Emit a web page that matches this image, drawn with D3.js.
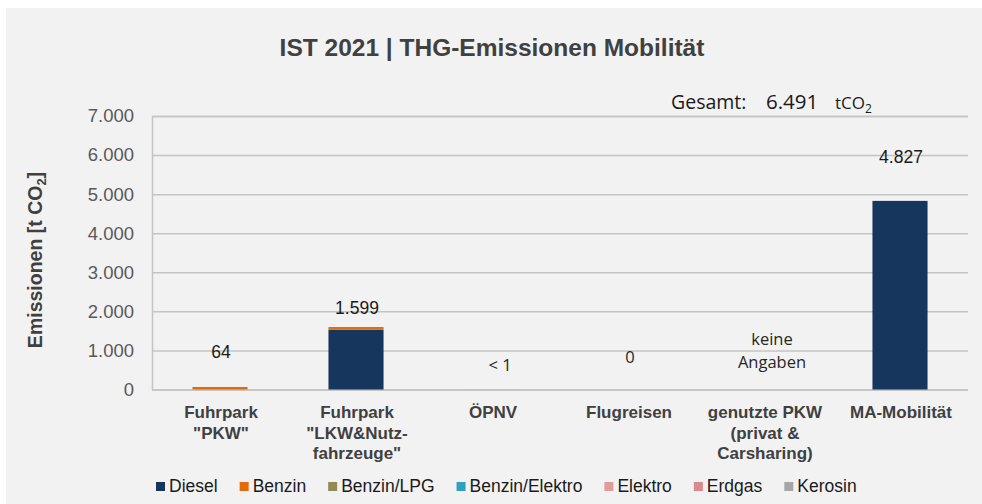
<!DOCTYPE html>
<html>
<head>
<meta charset="utf-8">
<script src="https://cdn.jsdelivr.net/npm/d3@7"></script>
<style>
  html, body { margin: 0; padding: 0; background: #ffffff; }
  svg { display: block; }
</style>
</head>
<body>
<svg id="chart" width="982" height="504"></svg>
<script>
// Categories (x axis), each with its label lines
const categories = ["Fuhrpark PKW", "Fuhrpark LKW", "ÖPNV", "Flugreisen", "genutzte PKW", "MA-Mobilität"];
const categoryLines = [
  ["Fuhrpark", "\"PKW\""],
  ["Fuhrpark", "\"LKW&Nutz-", "fahrzeuge\""],
  ["ÖPNV"],
  ["Flugreisen"],
  ["genutzte PKW", "(privat &", "Carsharing)"],
  ["MA-Mobilität"]
];

// Fuel types (stack series) and their colours
const fuels = ["Diesel", "Benzin", "Benzin/LPG", "Benzin/Elektro", "Elektro", "Erdgas", "Kerosin"];
const fuelColors = ["#17365d", "#e36c09", "#948a54", "#31a0c0", "#e09c9a", "#d98a8c", "#a6a6a6"];

// Emissions in t CO2 per category, one array per fuel
const diesel        = [0,    1532.3, 0.4, 0, 0, 4827.3];
const benzin        = [64.3, 67,     0,   0, 0, 0];
const benzinLPG     = [0,    0,      0,   0, 0, 0];
const benzinElektro = [0,    0,      0,   0, 0, 0];
const elektro       = [0,    0,      0,   0, 0, 0];
const erdgas        = [0,    0,      0,   0, 0, 0];
const kerosin       = [0,    0,      0,   0, 0, 0];

// Categories where no figures were reported
const noData = [false, false, false, false, true, false];

// Y axis ticks
const yTicks = [0, 1000, 2000, 3000, 4000, 5000, 6000, 7000];

// ---------------------------------------------------------------
const series = [diesel, benzin, benzinLPG, benzinElektro, elektro, erdgas, kerosin];
const rows = categories.map((c, i) => {
  const r = { category: c };
  fuels.forEach((f, k) => { r[f] = series[k][i]; });
  return r;
});
const totals = categories.map((c, i) => d3.sum(series, s => s[i]));
const grandTotal = d3.sum(totals);

const fmtDE = v => d3.format(",.0f")(v).replace(/,/g, ".");

const svg = d3.select("#chart");

// Panel background
svg.append("rect").attr("x", 6).attr("y", 8).attr("width", 976).attr("height", 496)
  .attr("fill", "#f2f2f2");

const plot = { left: 152, right: 968, top: 116, bottom: 389.5 };

const x = d3.scaleBand().domain(categories)
  .range([plot.left, plot.right]).paddingInner(0.595).paddingOuter(0.2975);
const y = d3.scaleLinear().domain([0, 7000]).range([plot.bottom, plot.top]);

// Title
svg.append("text")
  .attr("x", 492).attr("y", 56)
  .attr("text-anchor", "middle")
  .attr("font-family", "'Liberation Sans', Arial, sans-serif")
  .attr("font-weight", "bold").attr("font-size", 24.5)
  .attr("fill", "#404040")
  .text("IST 2021 | THG-Emissionen Mobilität");

// Gridlines and value axis
const yAxis = d3.axisLeft(y).tickValues(yTicks).tickSize(-(plot.right - plot.left))
  .tickPadding(18).tickFormat(fmtDE);
const gy = svg.append("g").attr("transform", `translate(${plot.left},0)`).call(yAxis);
gy.select(".domain").attr("stroke", "#c4c4c4").attr("stroke-width", 1.5);
gy.selectAll(".tick line").attr("stroke", "#c4c4c4").attr("stroke-width", 1.5);
gy.selectAll(".tick text")
  .attr("font-family", "'Liberation Sans', Arial, sans-serif")
  .attr("font-size", 18.5).attr("fill", "#595959");

// Axis title
const yt = svg.append("text")
  .attr("transform", "translate(42,260) rotate(-90)")
  .attr("text-anchor", "middle")
  .attr("font-family", "'Liberation Sans', Arial, sans-serif")
  .attr("font-weight", "bold").attr("font-size", 19.5)
  .attr("fill", "#404040");
yt.append("tspan").text("Emissionen [t CO");
yt.append("tspan").attr("font-size", 13).attr("dy", 4).text("2");
yt.append("tspan").attr("dy", -4).text("]");

// Stacked bars
const stack = d3.stack().keys(fuels);
const stacked = stack(rows);
svg.append("g").selectAll("g").data(stacked).join("g")
  .attr("fill", (d, k) => fuelColors[k])
  .selectAll("rect").data(d => d).join("rect")
  .attr("x", d => x(d.data.category))
  .attr("width", x.bandwidth())
  .attr("y", d => y(d[1]))
  .attr("height", d => y(d[0]) - y(d[1]));

// Value labels, lifted above bar tops
const labelLift = [35, 19.5, 0, 0, 0, 44];
const cx = c => x(c) + x.bandwidth() / 2;
const arialLabel = g => g
  .attr("font-family", "'Liberation Sans', Arial, sans-serif")
  .attr("font-size", 17.5).attr("fill", "#1a1a1a").attr("text-anchor", "middle");
const softLabel = g => g
  .attr("font-family", "'Open Sans', 'Noto Sans', sans-serif")
  .attr("font-size", 16.5).attr("fill", "#262626").attr("text-anchor", "middle");

categories.forEach((c, i) => {
  const t = totals[i];
  if (noData[i]) {
    svg.append("text").call(softLabel).attr("x", cx(c) + 8).attr("y", 345).text("keine");
    svg.append("text").call(softLabel).attr("x", cx(c) + 8).attr("y", 368).text("Angaben");
  } else if (t >= 10) {
    svg.append("text").call(arialLabel)
      .attr("x", cx(c) + 1).attr("y", y(t) - labelLift[i] + 6).text(fmtDE(t));
  } else if (t > 0) {
    svg.append("text").call(softLabel)
      .attr("x", cx(c) + 8).attr("y", 371).text("< 1");
  } else {
    svg.append("text").call(softLabel)
      .attr("x", cx(c) + 2).attr("y", 363).text(fmtDE(t));
  }
});

// Total
const tot = svg.append("text")
  .attr("x", 671).attr("y", 109)
  .attr("font-family", "'Open Sans', 'Noto Sans', sans-serif")
  .attr("font-size", 19.5).attr("fill", "#1a1a1a")
  .attr("xml:space", "preserve");
tot.append("tspan").text("Gesamt:");
tot.append("tspan").attr("x", 766).attr("font-size", 20.5).text(fmtDE(grandTotal));
tot.append("tspan").attr("x", 835).attr("font-size", 17).text("tCO");
tot.append("tspan").attr("font-size", 12).attr("dy", 4).text("2");

// Category labels
const gx = svg.append("g")
  .attr("font-family", "'Liberation Sans', Arial, sans-serif")
  .attr("font-weight", "bold").attr("font-size", 17)
  .attr("fill", "#404040").attr("text-anchor", "middle");
categories.forEach((c, i) => {
  const t = gx.append("text").attr("x", cx(c) + 1).attr("y", 418);
  categoryLines[i].forEach((line, j) => {
    t.append("tspan").attr("x", cx(c) + 1).attr("dy", j === 0 ? 0 : 20.5).text(line);
  });
});

// Legend
const lg = svg.append("g").attr("font-family", "'Liberation Sans', Arial, sans-serif")
  .attr("font-size", 17.5).attr("fill", "#1a1a1a");
let lx = 156;
fuels.forEach((f, k) => {
  lg.append("rect").attr("x", lx).attr("y", 482).attr("width", 9).attr("height", 9)
    .attr("fill", fuelColors[k]);
  const t = lg.append("text").attr("x", lx + 13).attr("y", 492).text(f);
  lx += 13 + t.node().getComputedTextLength() + 22;
});
</script>
</body>
</html>
